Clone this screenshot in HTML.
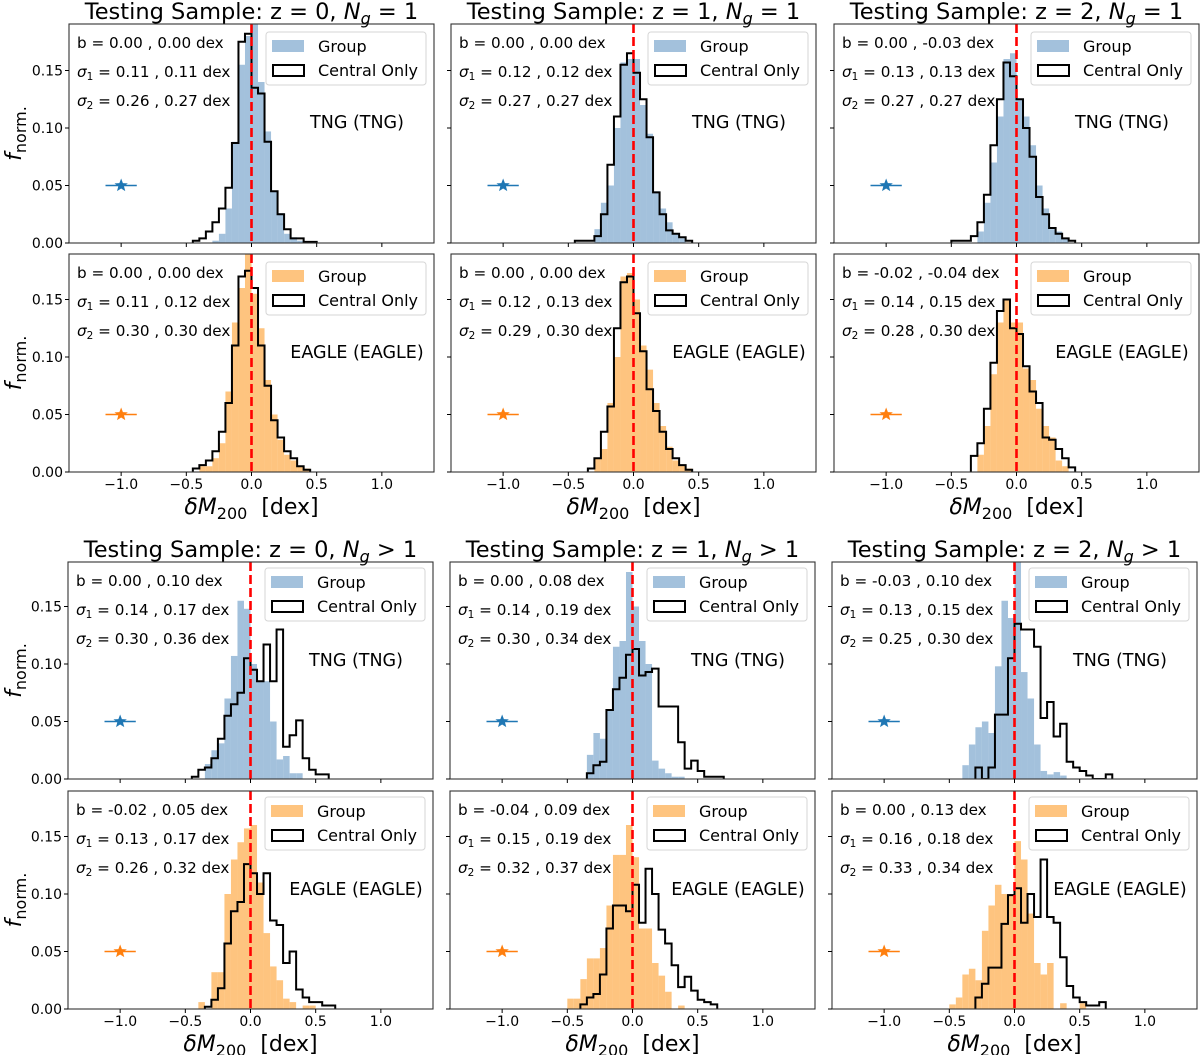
<!DOCTYPE html>
<html><head><meta charset="utf-8">
<style>
html,body{margin:0;padding:0;background:#fff;}
svg{display:block;font-family:"DejaVu Sans","Liberation Sans",sans-serif;}
</style></head>
<body>
<svg id="fig" width="1200" height="1055" viewBox="0 0 1200 1055" xmlns="http://www.w3.org/2000/svg"></svg>
<script>
// ---- data (bin width 0.05 dex) ----
const binWidth = 0.05;
const xTicks = [-1.0, -0.5, 0.0, 0.5, 1.0];
const xTickLabels = ["\u22121.0", "\u22120.5", "0.0", "0.5", "1.0"];
const yTicks = [0.00, 0.05, 0.10, 0.15];
const yTickLabels = ["0.00", "0.05", "0.10", "0.15"];
const zLabels = ["0", "1", "2"];
const simNames = ["TNG (TNG)", "EAGLE (EAGLE)"];
const bValues = ["b = 0.00 , 0.00 dex","b = 0.00 , 0.00 dex","b = 0.00 , -0.03 dex","b = 0.00 , 0.00 dex","b = 0.00 , 0.00 dex","b = -0.02 , -0.04 dex","b = 0.00 , 0.10 dex","b = 0.00 , 0.08 dex","b = -0.03 , 0.10 dex","b = -0.02 , 0.05 dex","b = -0.04 , 0.09 dex","b = 0.00 , 0.13 dex"];
const sigma1Values = ["0.11 , 0.11","0.12 , 0.12","0.13 , 0.13","0.11 , 0.12","0.12 , 0.13","0.14 , 0.15","0.14 , 0.17","0.14 , 0.19","0.13 , 0.15","0.13 , 0.17","0.15 , 0.19","0.16 , 0.18"];
const sigma2Values = ["0.26 , 0.27","0.27 , 0.27","0.27 , 0.27","0.30 , 0.30","0.29 , 0.30","0.28 , 0.30","0.30 , 0.36","0.30 , 0.34","0.25 , 0.30","0.26 , 0.32","0.32 , 0.37","0.33 , 0.34"];
const groupStart = [-0.30,-0.30,-0.30,-0.40,-0.35,-0.30,-0.35,-0.35,-0.40,-0.40,-0.50,-0.50];
const centralStart = [-0.45,-0.45,-0.50,-0.45,-0.35,-0.35,-0.45,-0.35,-0.30,-0.35,-0.40,-0.30];
const groupT1 = [0.002,0.008,0.03,0.088,0.155,0.18,0.19,0.14,0.097,0.045,0.026,0.008,0.005,0.002];
const centralT1 = [0.002,0.004,0.01,0.018,0.03,0.048,0.087,0.175,0.182,0.135,0.13,0.088,0.045,0.025,0.012,0.004,0.004,0.001,0.001];
const groupT2 = [0.012,0.035,0.05,0.1,0.157,0.16,0.16,0.12,0.095,0.045,0.03,0.018,0.008,0.004];
const centralT2 = [0.002,0.002,0.002,0.006,0.025,0.068,0.11,0.155,0.165,0.148,0.125,0.092,0.044,0.025,0.011,0.008,0.005,0.002];
const groupT3 = [0.01,0.035,0.07,0.11,0.16,0.165,0.125,0.11,0.085,0.05,0.03,0.012,0.01,0.004];
const centralT3 = [0.002,0.002,0.002,0.006,0.018,0.042,0.085,0.125,0.157,0.145,0.125,0.1,0.075,0.04,0.025,0.013,0.008,0.004,0.002];
const groupE1 = [0.005,0.005,0.012,0.025,0.07,0.13,0.16,0.19,0.155,0.125,0.08,0.05,0.028,0.015,0.01,0.005,0.003];
const centralE1 = [0.003,0.006,0.01,0.018,0.035,0.06,0.11,0.17,0.175,0.16,0.11,0.075,0.045,0.03,0.018,0.012,0.005,0.002];
const groupE2 = [0,0.012,0.02,0.06,0.1,0.17,0.173,0.15,0.11,0.089,0.06,0.04,0.022,0.01,0.006,0.003];
const centralE2 = [0.003,0.012,0.035,0.057,0.125,0.165,0.17,0.138,0.105,0.072,0.053,0.035,0.02,0.012,0.006,0.002];
const groupE3 = [0.015,0.04,0.085,0.13,0.15,0.13,0.13,0.09,0.08,0.055,0.04,0.03,0.01,0.005];
const centralE3 = [0.014,0.025,0.055,0.095,0.14,0.15,0.125,0.12,0.092,0.07,0.06,0.03,0.028,0.02,0.012,0.004];
const groupMT1 = [0.013,0.025,0.031,0.07,0.107,0.155,0.148,0.1,0.085,0.085,0.05,0.017,0.02,0.005,0.005];
const centralMT1 = [0.002,0.008,0.01,0.018,0.035,0.055,0.065,0.075,0.105,0.095,0.085,0.117,0.085,0.13,0.028,0.038,0.051,0.018,0.008,0.004,0.004];
const groupMT2 = [0.021,0.04,0.035,0.06,0.115,0.12,0.18,0.15,0.12,0.10,0.016,0.009,0.005,0.002,0.002];
const centralMT2 = [0.005,0.012,0.015,0.06,0.078,0.088,0.108,0.113,0.09,0.093,0.096,0.063,0.063,0.063,0.032,0.009,0.016,0.007,0.002,0.002,0.002];
const groupMT3 = [0.012,0.03,0.045,0.05,0.04,0.098,0.155,0.14,0.2,0.093,0.07,0.03,0.007,0.004,0.006,0.003];
const centralMT3 = [0.01,0,0.01,0.056,0.056,0.105,0.135,0.13,0.13,0.115,0.053,0.067,0.037,0.048,0.015,0.01,0.007,0.003,0,0,0.004];
const groupME1 = [0.006,0,0.032,0.032,0.1,0.13,0.145,0.157,0.16,0.11,0.066,0.037,0.025,0.009,0.006,0,0.003,0.003];
const centralME1 = [0.002,0.008,0.018,0.057,0.085,0.093,0.126,0.118,0.1,0.118,0.077,0.073,0.04,0.05,0.017,0.01,0.006,0.006,0.003,0.003];
const groupME2 = [0.009,0.009,0.026,0.044,0.044,0.053,0.09,0.134,0.134,0.16,0.132,0.07,0.07,0.04,0.029,0.015,0,0.003];
const centralME2 = [0.004,0.01,0.013,0.03,0.07,0.09,0.09,0.085,0.108,0.075,0.122,0.10,0.069,0.057,0.038,0.019,0.028,0.016,0.008,0.006,0.004];
const groupME3 = [0.004,0.01,0.03,0.035,0.025,0.068,0.09,0.108,0.1,0.1,0.146,0.13,0.083,0.04,0.03,0.04,0,0.005,0,0,0.005];
const centralME3 = [0.01,0.022,0.036,0.036,0.074,0.099,0.105,0.075,0.1,0.08,0.13,0.08,0.075,0.045,0.02,0.01,0.006,0.003,0.003,0.006];
const groupSeries = [groupT1,groupT2,groupT3,groupE1,groupE2,groupE3,groupMT1,groupMT2,groupMT3,groupME1,groupME2,groupME3];
const centralSeries = [centralT1,centralT2,centralT3,centralE1,centralE2,centralE3,centralMT1,centralMT2,centralMT3,centralME1,centralME2,centralME3];
const markerX = -1.0, markerY = 0.05, markerErr = 0.12;

// ---- layout ----
const NS = "http://www.w3.org/2000/svg";
const svg = document.getElementById("fig");
const colX0Top = [69, 451, 834], colX0Bot = [68, 450, 832];
const rowTop = [24, 254, 562, 791];
const rowH = [219, 218, 217, 218];
const PW = 365;
const xMin = -1.4, xMax = 1.4;
const yScalePx = 1150;
const colors = {tng: "#1f77b4", eagle: "#ff7f0e", tngFill: "#a3c1dc", eagleFill: "#fec47f"};

function el(tag, attrs, parent) {
  const e = document.createElementNS(NS, tag);
  for (const k in attrs) e.setAttribute(k, attrs[k]);
  (parent || svg).appendChild(e);
  return e;
}
function txt(x, y, s, size, anchor, parent) {
  const t = el("text", {x: x, y: y, "font-size": size, "text-anchor": anchor || "start", fill: "#000"}, parent);
  t.textContent = s;
  return t;
}
function tsp(parent, s, attrs) {
  const t = document.createElementNS(NS, "tspan");
  for (const k in (attrs || {})) t.setAttribute(k, attrs[k]);
  t.textContent = s;
  parent.appendChild(t);
  return t;
}

for (let p = 0; p < 12; p++) {
  const row = Math.floor(p / 3), col = p % 3;
  const x0 = row < 2 ? colX0Top[col] : colX0Bot[col];
  const y0 = rowTop[row], h = rowH[row];
  const yb = y0 + h;
  const isEagle = row % 2 === 1;
  const sx = v => x0 + (v - xMin) / (xMax - xMin) * PW;
  const sy = v => yb - v * yScalePx;
  const g = el("g", {});
  
  
  const clipId = "clip" + p;
  const cp = el("clipPath", {id: clipId}, g);
  el("rect", {x: x0, y: y0, width: PW, height: h}, cp);
  const plot = el("g", {"clip-path": "url(#" + clipId + ")"}, g);

  const gs = groupSeries[p], gst = groupStart[p];
  for (let i = 0; i < gs.length; i++) {
    if (gs[i] <= 0) continue;
    const l = gst + i * binWidth;
    const r = el("rect", {x: sx(l), y: sy(gs[i]), width: sx(l + binWidth) - sx(l), height: yb - sy(gs[i]), fill: isEagle ? colors.eagleFill : colors.tngFill}, plot);
    
    
  }
  const cs = centralSeries[p], cst = centralStart[p];
  let d = "M" + sx(cst) + "," + yb;
  for (let i = 0; i < cs.length; i++) {
    const l = cst + i * binWidth;
    d += " L" + sx(l) + "," + sy(cs[i]) + " L" + sx(l + binWidth) + "," + sy(cs[i]);
  }
  d += " L" + sx(cst + cs.length * binWidth) + "," + yb;
  const step = el("path", {d: d, fill: "none", stroke: "#000", "stroke-width": 2, "stroke-linejoin": "miter"}, plot);
  
  

  const zl = el("line", {x1: sx(0), x2: sx(0), y1: y0, y2: yb, stroke: "#ff0000", "stroke-width": 2.6, "stroke-dasharray": "9,4"}, plot);
  
  

  const mc = isEagle ? colors.eagle : colors.tng;
  const eb = el("line", {x1: sx(markerX - markerErr), x2: sx(markerX + markerErr), y1: sy(markerY), y2: sy(markerY), stroke: mc, "stroke-width": 1.5}, plot);
  
  
  const cx = sx(markerX), cy = sy(markerY);
  let sp = "";
  for (let k = 0; k < 10; k++) {
    const rr = k % 2 === 0 ? 7 : 3;
    const a = -Math.PI / 2 + k * Math.PI / 5;
    sp += (k ? " L" : "M") + (cx + rr * Math.cos(a)).toFixed(2) + "," + (cy + rr * Math.sin(a)).toFixed(2);
  }
  const star = el("path", {d: sp + "Z", fill: mc}, plot);
  
  

  const fr = el("rect", {x: x0, y: y0, width: PW, height: h, fill: "none", stroke: "#333", "stroke-width": 1.1}, g);
  
  

  xTicks.forEach((v, i) => {
    el("line", {x1: sx(v), x2: sx(v), y1: yb, y2: yb + 4, stroke: "#000", "stroke-width": 1}, g);
    if (row % 2 === 1) {
      const t = txt(sx(v), yb + 17, xTickLabels[i], 14, "middle", g);
      
      
    }
  });
  yTicks.forEach((v, i) => {
    el("line", {x1: x0, x2: x0 - 4, y1: sy(v), y2: sy(v), stroke: "#000", "stroke-width": 1}, g);
    if (col === 0) {
      const t = txt(x0 - 6, sy(v) + 5, yTickLabels[i], 14, "end", g);
      
      
    }
  });

  const ty = y0 + 24;
  const a1 = txt(x0 + 8, ty, bValues[p], 15.2, "start", g);
  
  
  [sigma1Values[p], sigma2Values[p]].forEach((s, k) => {
    const t = el("text", {x: x0 + 8, y: ty + 29 * (k + 1), "font-size": 15.2}, g);
    tsp(t, "\u03c3", {"font-style": "italic"});
    tsp(t, String(k + 1), {"font-size": 10.5, dy: 3});
    tsp(t, " = " + s + " dex", {dy: -3});
    
    
  });
  const sn = txt(x0 + 288, y0 + 104, simNames[isEagle ? 1 : 0], 17.5, "middle", g);
  
  

  const lx = x0 + PW - 168, ly = y0 + (row < 2 ? 8 : 6);
  const lg = el("g", {}, g);
  
  
  el("rect", {x: lx, y: ly, width: 160, height: 53, rx: 3, fill: "#fff", "fill-opacity": 0.85, stroke: "#d6d6d6", "stroke-width": 1}, lg);
  el("rect", {x: lx + 6, y: ly + 8, width: 32, height: 12, fill: isEagle ? colors.eagleFill : colors.tngFill}, lg);
  el("rect", {x: lx + 7, y: ly + 33, width: 31, height: 11, fill: "#fff", stroke: "#000", "stroke-width": 2}, lg);
  const le1 = txt(lx + 52, ly + 20, "Group", 16, "start", lg);
  
  
  const le2 = txt(lx + 52, ly + 44, "Central Only", 16, "start", lg);
  
  

  if (col === 0) {
    const yc = y0 + h / 2;
    const yl = el("text", {x: 0, y: 0, "font-size": 22, "text-anchor": "middle", transform: "translate(21," + yc + ") rotate(-90)"}, g);
    tsp(yl, "f", {"font-style": "italic"});
    tsp(yl, "norm.", {"font-size": 16, dy: 5});
    
    
  }
  if (row % 2 === 1) {
    const xl = el("text", {x: x0 + PW / 2, y: yb + 42, "font-size": 22, "text-anchor": "middle"}, g);
    tsp(xl, "\u03b4M", {"font-style": "italic"});
    tsp(xl, "200", {"font-size": 16, dy: 5});
    tsp(xl, "\u00a0 [dex]", {dy: -5});
    
    
  }
  if (row % 2 === 0) {
    const tt = el("text", {x: x0 + PW / 2, y: y0 - 5, "font-size": 22.5, "text-anchor": "middle"}, g);
    tsp(tt, "Testing Sample: z = " + zLabels[col] + ", ");
    tsp(tt, "N", {"font-style": "italic"});
    tsp(tt, "g", {"font-style": "italic", "font-size": 16, dy: 5});
    tsp(tt, (row < 2 ? " = 1" : " > 1"), {dy: -5});
    
    
  }
}
</script>
</body></html>
